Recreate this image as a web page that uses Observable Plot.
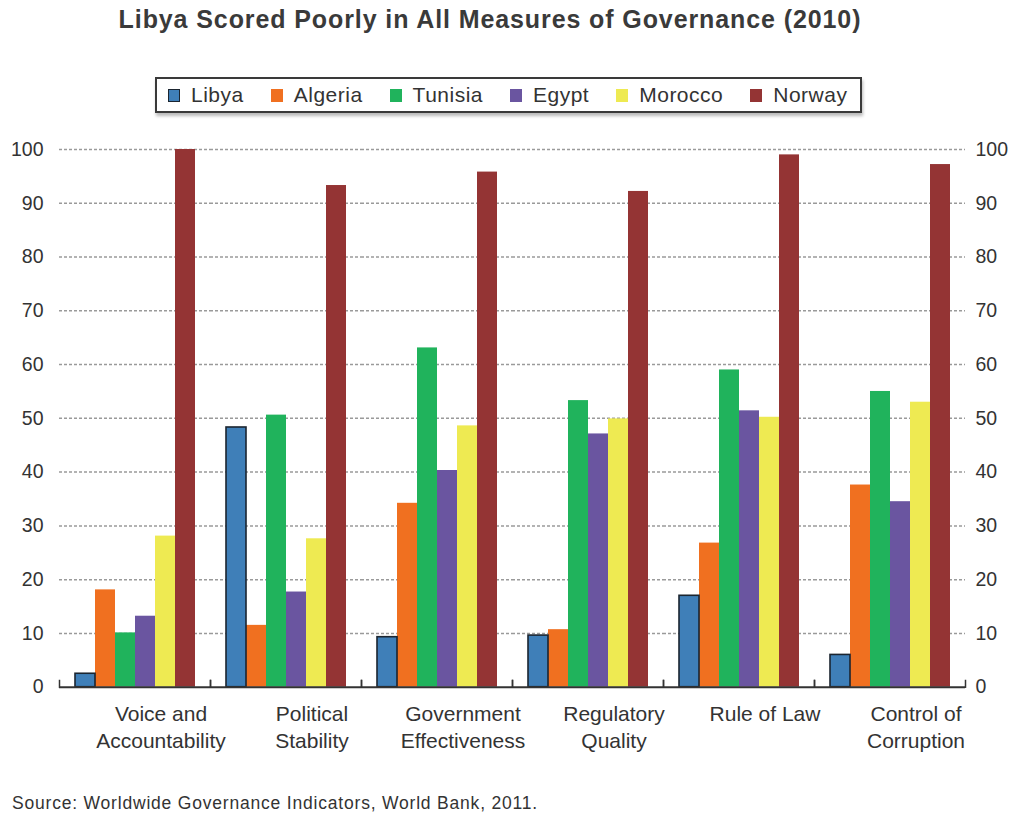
<!DOCTYPE html>
<html>
<head>
<meta charset="utf-8">
<script src="https://cdn.jsdelivr.net/npm/d3@7"></script>
<script src="https://cdn.jsdelivr.net/npm/@observablehq/plot@0.6"></script>
<style>
  html, body { margin: 0; padding: 0; background: #fff; }
  body { width: 1018px; height: 821px; position: relative; font-family: "Liberation Sans", Arial, sans-serif; color: #333; overflow: hidden; }
  #title { position: absolute; top: 5px; left: 0; width: 980px; text-align: center; font-size: 25px; letter-spacing: 0.9px; font-weight: bold; color: #3a3a3a; }
  #legend { position: absolute; top: 77px; left: 155px; width: 692px; height: 32px; border: 2px solid #3a3a3a; box-shadow: 1px 3px 3px #bbb; display: flex; align-items: center; justify-content: flex-start; font-size: 21px; letter-spacing: 0.5px; color: #333; box-sizing: content-box; padding: 0 0 0 11px; }
  #legend .item { display: flex; align-items: center; margin-right: 27px; }
  #legend .sw { width: 12px; height: 13px; margin-right: 11px; box-sizing: border-box; }
  #chart { position: absolute; top: 120px; left: 0; }
  #caption { position: absolute; top: 793px; left: 12px; font-size: 17.5px; letter-spacing: 0.8px; color: #333; }
</style>
</head>
<body>
<div id="title">Libya Scored Poorly in All Measures of Governance (2010)</div>
<div id="legend"></div>
<div id="chart"></div>
<div id="caption">Source: Worldwide Governance Indicators, World Bank, 2011.</div>
<script>
const categories = ["Voice and Accountability", "Political Stability", "Government Effectiveness", "Regulatory Quality", "Rule of Law", "Control of Corruption"];
const categoryLabels = ["Voice and\nAccountability", "Political\nStability", "Government\nEffectiveness", "Regulatory\nQuality", "Rule of Law", "Control of\nCorruption"];
const countries = ["Libya", "Algeria", "Tunisia", "Egypt", "Morocco", "Norway"];
const colors = ["#3f7fb8", "#f07020", "#20b35c", "#6a55a0", "#eeea52", "#943434"];

const libya   = [2.5, 48.3, 9.3, 9.6, 17.0, 6.0];
const algeria = [18.1, 11.5, 34.2, 10.7, 26.8, 37.6];
const tunisia = [10.1, 50.6, 63.1, 53.3, 59.0, 55.0];
const egypt   = [13.2, 17.7, 40.3, 47.1, 51.4, 34.5];
const morocco = [28.1, 27.6, 48.6, 49.9, 50.2, 53.0];
const norway  = [100, 93.3, 95.8, 92.2, 99.0, 97.2];
const yTicks = [0, 10, 20, 30, 40, 50, 60, 70, 80, 90, 100];

const series = [libya, algeria, tunisia, egypt, morocco, norway];
const data = categories.flatMap((c, i) => countries.map((k, j) => ({category: c, country: k, value: series[j][i]})));

// legend
const legend = document.getElementById("legend");
countries.forEach((k, j) => {
  const it = document.createElement("div");
  it.className = "item";
  const sw = document.createElement("div");
  sw.className = "sw";
  sw.style.background = colors[j];
  if (k === "Libya") sw.style.border = "1.5px solid #1b2530";
  const t = document.createElement("span");
  t.textContent = k;
  it.appendChild(sw); it.appendChild(t);
  legend.appendChild(it);
});

const font = {fontFamily: "Liberation Sans, Arial, sans-serif", color: "#333", background: "#fff"};
const chart = Plot.plot({
  width: 1018,
  height: 660,
  marginLeft: 58,
  marginRight: 53,
  marginTop: 29,
  marginBottom: 93.3,
  style: font,
  fx: {domain: categories, padding: 0, label: null},
  x: {domain: countries, paddingInner: 0, paddingOuter: 0.72, axis: null},
  y: {domain: [0, 100], axis: null},
  color: {domain: countries, range: colors},
  marks: [
    Plot.gridY(yTicks.filter(d => d > 0), {stroke: "#9a9a9a", strokeOpacity: 1, strokeDasharray: "3,2", strokeWidth: 1.5}),
    Plot.barY(data, {fx: "category", x: "country", y: "value", fill: "country"}),
    Plot.barY(data.filter(d => d.country === "Libya"), {fx: "category", x: "country", y: "value", fill: "none", stroke: "#1b2530", strokeWidth: 1.6}),
    Plot.ruleY([0], {stroke: "#333", strokeWidth: 2}),
    Plot.frame({anchor: "left", insetTop: 531, stroke: "#333", strokeWidth: 1.5}),
    Plot.frame({anchor: "right", insetTop: 531, stroke: "#333", strokeWidth: 1.5}),
    Plot.axisY({anchor: "left", ticks: yTicks, tickSize: 0, tickPadding: 16, fontSize: 19.5, fill: "#333", label: null}),
    Plot.axisY({anchor: "right", ticks: yTicks, tickSize: 0, tickPadding: 10, fontSize: 19.5, fill: "#333", label: null}),
    Plot.axisFx({anchor: "bottom", tickSize: 0, tickPadding: 14, fontSize: 21, letterSpacing: 0.3, lineHeight: 1.3, fill: "#333", label: null, dx: 26,
      tickFormat: d => categoryLabels[categories.indexOf(d)]})
  ]
});
document.getElementById("chart").appendChild(chart);
</script>
</body>
</html>
